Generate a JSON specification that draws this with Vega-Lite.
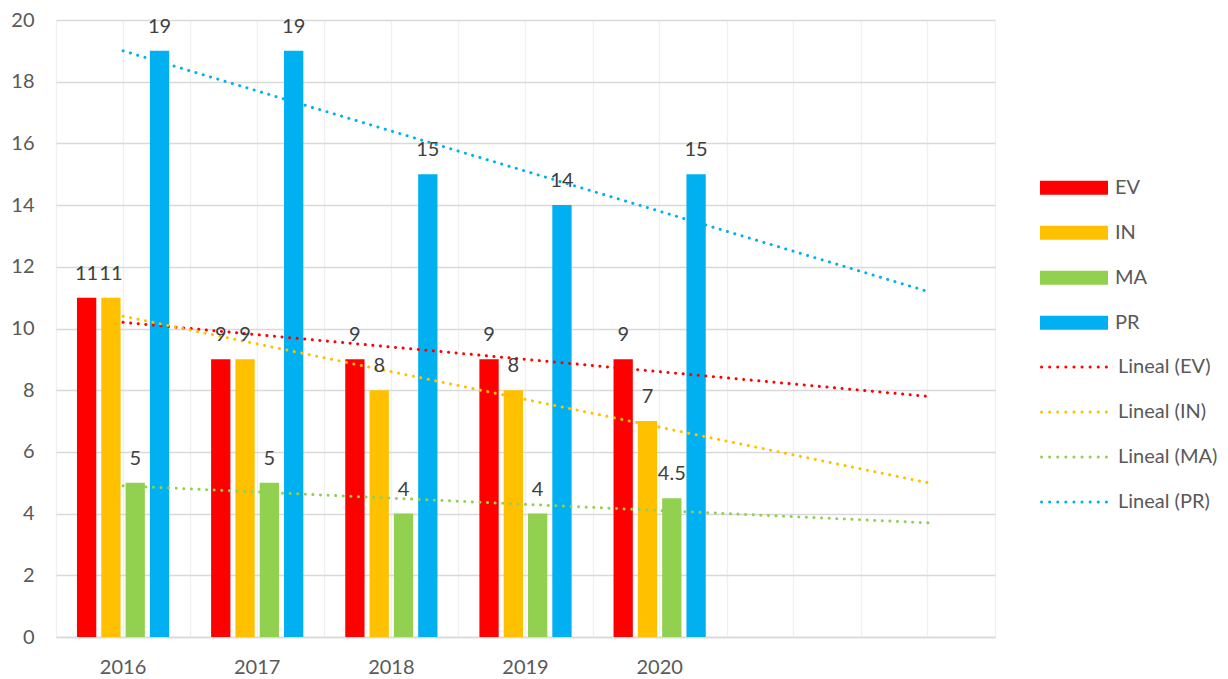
{
  "$schema": "https://vega.github.io/schema/vega-lite/v6.json",
  "width": 939,
  "height": 617,
  "autosize": {"type": "none"},
  "padding": {"left": 56, "top": 20, "right": 233, "bottom": 42},
  "background": "white",
  "config": {
    "view": {"stroke": null},
    "font": "Lato",
    "legend": {"padding": 0, "titleFontSize": 0}
  },
  "datasets": {
    "bars": [
      {"year": "2016", "series": "EV", "value": 11},
      {"year": "2016", "series": "IN", "value": 11},
      {"year": "2016", "series": "MA", "value": 5},
      {"year": "2016", "series": "PR", "value": 19},
      {"year": "2017", "series": "EV", "value": 9},
      {"year": "2017", "series": "IN", "value": 9},
      {"year": "2017", "series": "MA", "value": 5},
      {"year": "2017", "series": "PR", "value": 19},
      {"year": "2018", "series": "EV", "value": 9},
      {"year": "2018", "series": "IN", "value": 8},
      {"year": "2018", "series": "MA", "value": 4},
      {"year": "2018", "series": "PR", "value": 15},
      {"year": "2019", "series": "EV", "value": 9},
      {"year": "2019", "series": "IN", "value": 8},
      {"year": "2019", "series": "MA", "value": 4},
      {"year": "2019", "series": "PR", "value": 14},
      {"year": "2020", "series": "EV", "value": 9},
      {"year": "2020", "series": "IN", "value": 7},
      {"year": "2020", "series": "MA", "value": 4.5},
      {"year": "2020", "series": "PR", "value": 15}
    ],
    "trends": [
      {"year": "2016", "trend": "Lineal (EV)", "value": 10.2},
      {"year": "2022", "trend": "Lineal (EV)", "value": 7.8},
      {"year": "2016", "trend": "Lineal (IN)", "value": 10.4},
      {"year": "2022", "trend": "Lineal (IN)", "value": 5.0},
      {"year": "2016", "trend": "Lineal (MA)", "value": 4.9},
      {"year": "2022", "trend": "Lineal (MA)", "value": 3.7},
      {"year": "2016", "trend": "Lineal (PR)", "value": 19.0},
      {"year": "2022", "trend": "Lineal (PR)", "value": 11.2}
    ]
  },
  "layer": [
    {
      "data": {"name": "bars"},
      "mark": {"type": "bar"},
      "encoding": {
        "x": {
          "field": "year",
          "type": "ordinal",
          "scale": {
            "domain": ["2016", "2017", "2018", "2019", "2020", "2021", "2022"],
            "paddingInner": 0.3125,
            "paddingOuter": 0.15625
          },
          "axis": {
            "orient": "bottom",
            "title": null,
            "labelAngle": 0,
            "labelExpr": "toNumber(datum.value) > 2020 ? '' : datum.label",
            "labelFontSize": 20,
            "labelColor": "#595959",
            "labelPadding": 20,
            "ticks": false,
            "domain": true,
            "domainColor": "#D9D9D9",
            "domainWidth": 1.5,
            "grid": true,
            "gridColor": "#F0F0F0",
            "gridWidth": 1.3
          }
        },
        "xOffset": {
          "field": "series",
          "scale": {"domain": ["EV", "IN", "MA", "PR"], "paddingInner": 0.206, "paddingOuter": 0}
        },
        "y": {
          "field": "value",
          "type": "quantitative",
          "scale": {"domain": [0, 20]},
          "axis": {
            "title": null,
            "values": [0, 2, 4, 6, 8, 10, 12, 14, 16, 18, 20],
            "labelFontSize": 20,
            "labelColor": "#595959",
            "labelPadding": 22,
            "ticks": false,
            "domain": false,
            "grid": true,
            "gridColor": "#D9D9D9",
            "gridWidth": 1.3
          }
        },
        "fill": {
          "field": "series",
          "type": "nominal",
          "scale": {
            "domain": ["EV", "IN", "MA", "PR"],
            "range": ["#FF0000", "#FFC000", "#92D050", "#00B0F0"]
          },
          "legend": {
            "title": null,
            "orient": "none",
            "legendX": 984,
            "legendY": 157.7,
            "symbolType": "M-1,-0.206L1,-0.206L1,0.206L-1,0.206Z",
            "symbolSize": 4624,
            "symbolStrokeWidth": 0,
            "clipHeight": 20,
            "rowPadding": 25,
            "labelOffset": 7,
            "labelFontSize": 20,
            "labelColor": "#595959"
          }
        }
      }
    },
    {
      "data": {"name": "trends"},
      "mark": {"type": "line", "strokeWidth": 3, "strokeDash": [0.1, 7.5], "strokeCap": "round"},
      "encoding": {
        "x": {
          "field": "year",
          "type": "ordinal",
          "scale": {
            "domain": ["2016", "2017", "2018", "2019", "2020", "2021", "2022"],
            "paddingInner": 0,
            "paddingOuter": 0
          },
          "axis": {
            "orient": "bottom",
            "title": null,
            "tickBand": "extent",
            "labels": false,
            "ticks": false,
            "domain": false,
            "grid": true,
            "gridColor": "#F0F0F0",
            "gridWidth": 1.3
          }
        },
        "y": {"field": "value", "type": "quantitative"},
        "stroke": {
          "field": "trend",
          "type": "nominal",
          "scale": {
            "domain": ["Lineal (EV)", "Lineal (IN)", "Lineal (MA)", "Lineal (PR)"],
            "range": ["#FF0000", "#FFC000", "#92D050", "#00B0F0"]
          },
          "legend": {
            "title": null,
            "orient": "none",
            "legendX": 984,
            "legendY": 337,
            "symbolType": "stroke",
            "symbolSize": 4624,
            "symbolStrokeWidth": 3,
            "symbolDash": [0.1, 8],
            "clipHeight": 20,
            "rowPadding": 25,
            "labelOffset": 7,
            "labelFontSize": 20,
            "labelColor": "#595959",
            "encode": {"symbols": {"update": {"strokeCap": {"value": "round"}}}}
          }
        }
      }
    },
    {
      "data": {"name": "bars"},
      "mark": {"type": "text", "baseline": "alphabetic", "dy": -18, "fontSize": 20, "color": "#404040"},
      "encoding": {
        "x": {
          "field": "year",
          "type": "ordinal",
          "scale": {
            "domain": ["2016", "2017", "2018", "2019", "2020", "2021", "2022"],
            "paddingInner": 0.3125,
            "paddingOuter": 0.15625
          },
          "axis": null
        },
        "xOffset": {"field": "series"},
        "y": {"field": "value", "type": "quantitative"},
        "text": {"field": "value", "type": "quantitative"}
      }
    }
  ],
  "resolve": {"scale": {"x": "independent"}, "axis": {"x": "independent"}}
}
